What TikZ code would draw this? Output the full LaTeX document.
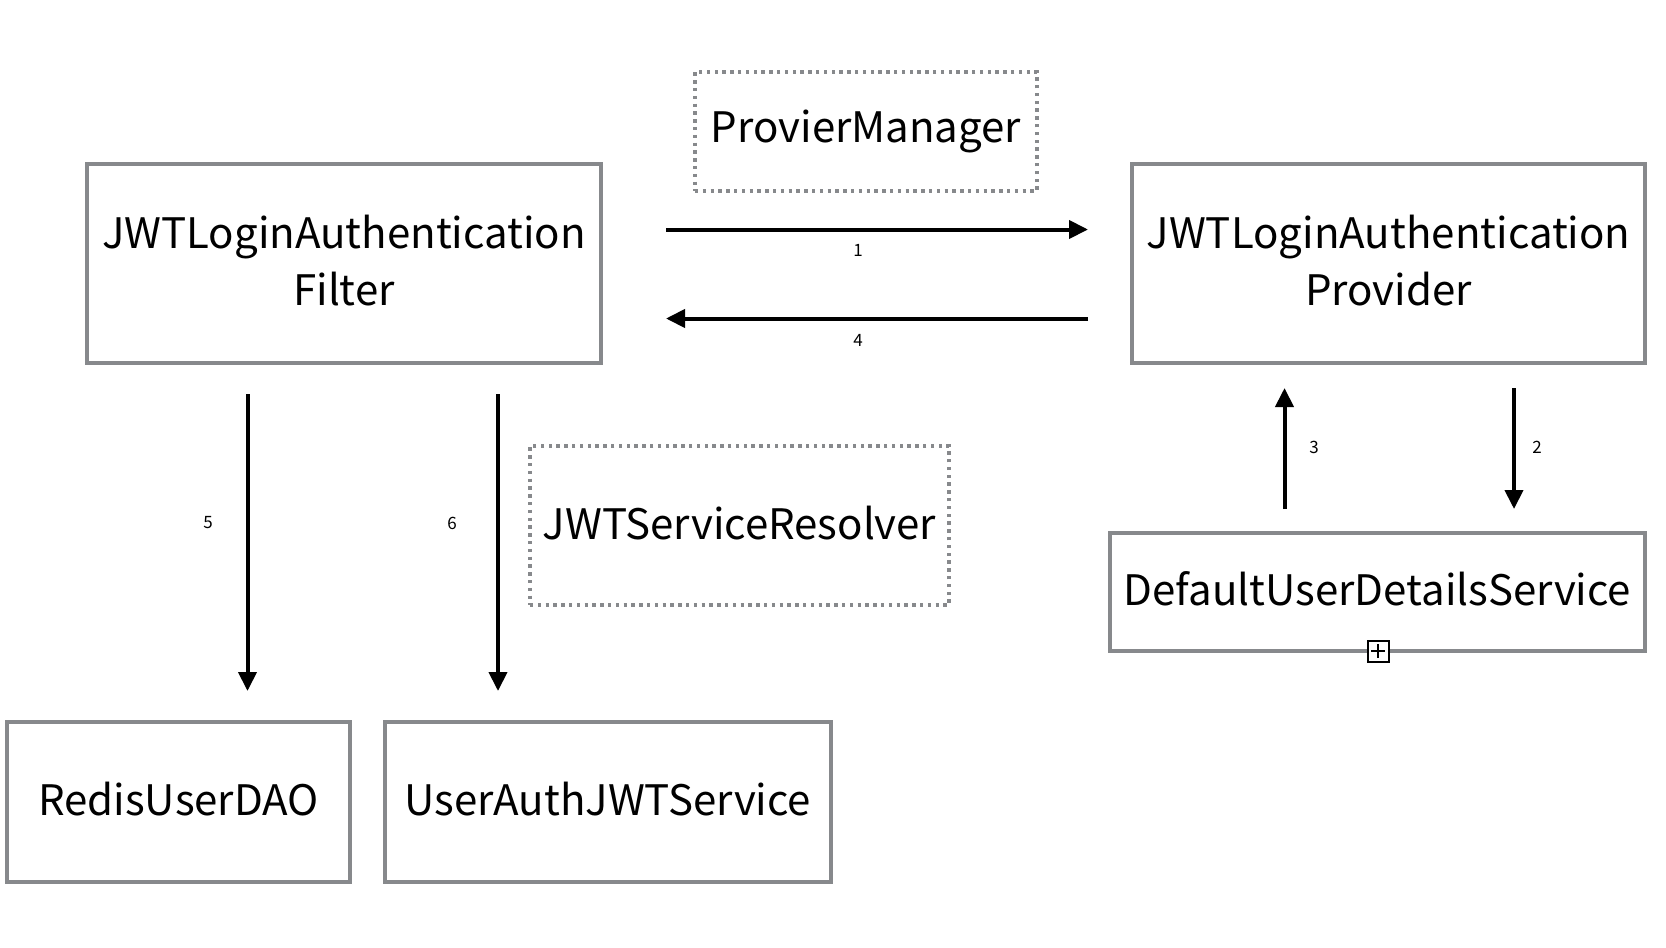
\documentclass[tikz,border=0pt]{standalone}
\usepackage{fontspec}
\setmainfont{Noto Sans CJK KR}
\usetikzlibrary{arrows.meta}
\definecolor{boxgray}{HTML}{87898C}
\tikzset{
  solidbox/.style={draw=boxgray, line width=2pt, inner sep=0pt, align=center, font=\fontsize{21}{28.5}\selectfont},
  dotbox/.style={draw=boxgray, line width=1.7pt, dash pattern=on 1.7pt off 2.2pt, inner sep=0pt, align=center, font=\fontsize{21}{28.5}\selectfont},
  arr/.style={line width=2pt, -{Triangle[length=9.5pt,width=9pt]}},
  num/.style={font=\fontsize{8.5}{10}\selectfont, inner sep=0pt}
}
\newcommand{\up}[1]{\raisebox{3pt}{#1}}
\begin{document}
\begin{tikzpicture}[x=0.5pt,y=-0.5pt]
\useasboundingbox[fill=white] (0,0) rectangle (1666,948);
% boxes
\node[solidbox, minimum width=514*0.5pt, minimum height=199*0.5pt] (filter) at (344,263.5) {\up{JWTLoginAuthentication}\\\up{Filter}};
\node[solidbox, minimum width=513*0.5pt, minimum height=199*0.5pt] (provider) at (1388.5,263.5) {\up{JWTLoginAuthentication}\\\up{Provider}};
\node[dotbox, minimum width=342*0.5pt, minimum height=119*0.5pt] (manager) at (866,131.5) {\up{ProvierManager}};
\node[solidbox, minimum width=535*0.5pt, minimum height=118*0.5pt] (uds) at (1377.5,592) {\up{DefaultUserDetailsService}};
\node[dotbox, minimum width=419*0.5pt, minimum height=159*0.5pt] (resolver) at (739.5,525.5) {\up{JWTServiceResolver}};
\node[solidbox, minimum width=343*0.5pt, minimum height=160*0.5pt] (redis) at (178.5,802) {\up{RedisUserDAO}};
\node[solidbox, minimum width=446*0.5pt, minimum height=160*0.5pt] (uajs) at (608,802) {\up{UserAuthJWTService}};
% expand marker
\node[draw=black, fill=white, line width=1pt, minimum size=21*0.5pt, inner sep=0pt] (plus) at (1378,651) {};
\draw[line width=0.8pt] ([yshift=3.5pt]plus.center) -- ([yshift=-3.5pt]plus.center)
                        ([xshift=-3.5pt]plus.center) -- ([xshift=3.5pt]plus.center);
% arrow end points
\coordinate (a1s) at (666,229.5);  \coordinate (a1e) at (1088,229.5);
\coordinate (a4s) at (1088,318.5); \coordinate (a4e) at (666,318.5);
\coordinate (a3s) at (1284.5,509); \coordinate (a3e) at (1284.5,388);
\coordinate (a2s) at (1514,388);   \coordinate (a2e) at (1514,509);
\coordinate (a5s) at (247.5,394);  \coordinate (a5e) at (247.5,691);
\coordinate (a6s) at (498,394);    \coordinate (a6e) at (498,691);
\draw[arr] (a1s) -- (a1e);
\draw[arr] (a4s) -- (a4e);
\draw[arr] (a3s) -- (a3e);
\draw[arr] (a2s) -- (a2e);
\draw[arr] (a5s) -- (a5e);
\draw[arr] (a6s) -- (a6e);
% labels
\node[num] (l1) at (858,250) {1};
\node[num] (l4) at (858,340) {4};
\node[num] (l3) at (1314,447) {3};
\node[num] (l2) at (1537,447) {2};
\node[num] (l5) at (208,523) {5};
\node[num] (l6) at (452,523) {6};
\end{tikzpicture}
\end{document}
